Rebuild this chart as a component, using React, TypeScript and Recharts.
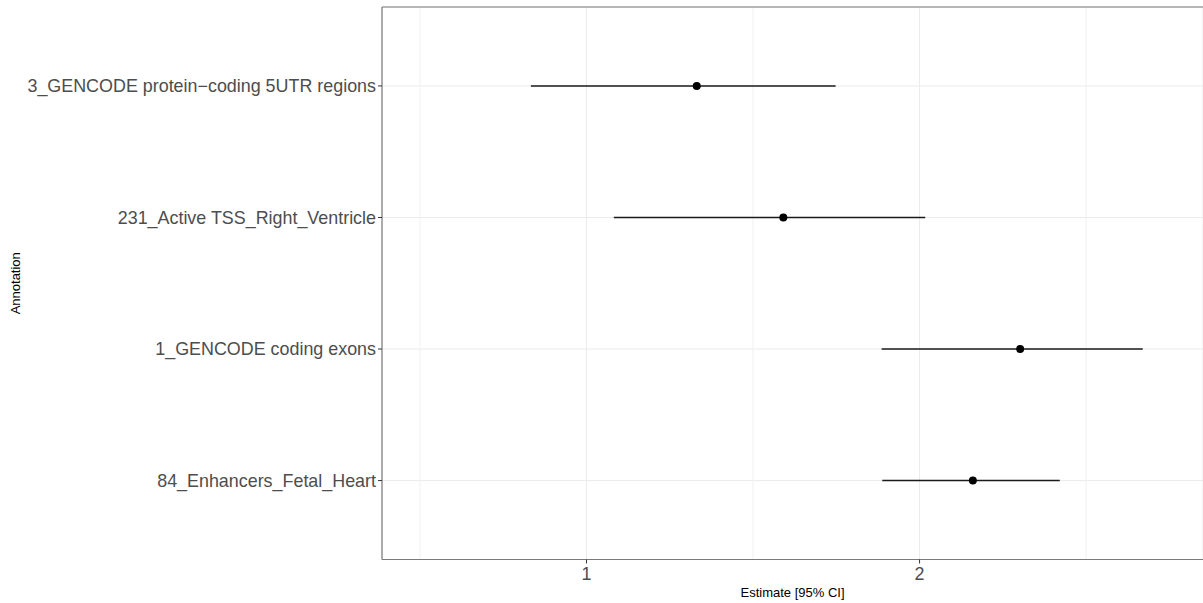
import React from "react";
import {
  ScatterChart,
  Scatter,
  XAxis,
  YAxis,
  CartesianGrid,
  ErrorBar,
  ReferenceLine,
} from "recharts";

// Categories from bottom (1) to top (4)
const annotations = [
  "84_Enhancers_Fetal_Heart",
  "1_GENCODE coding exons",
  "231_Active TSS_Right_Ventricle",
  "3_GENCODE protein\u2212coding 5UTR regions",
];
const estimates = [2.16, 2.302, 1.591, 1.331];
const lowerCI = [1.888, 1.886, 1.082, 0.833];
const upperCI = [2.421, 2.67, 2.017, 1.748];

const xTicks = [1, 2];
const xMinorGrid = [0.5, 1.5, 2.5];
const yTicks = [1, 2, 3, 4];

const data = annotations.map((name, i) => ({
  name,
  pos: i + 1,
  est: estimates[i],
  err: [estimates[i] - lowerCI[i], upperCI[i] - estimates[i]],
}));

const FONT = "'Liberation Sans', Arial, Helvetica, sans-serif";

const Dot = (props: any) => {
  const { cx, cy } = props;
  return <circle cx={cx} cy={cy} r={4} fill="#000" />;
};

const YTitle = (props: any) => {
  const vb = props.viewBox || {};
  const x = (vb.x ?? 0) + 15;
  const y = (vb.y ?? 0) + (vb.height ?? 0) / 2;
  return (
    <text
      x={x}
      y={y}
      transform={`rotate(-90, ${x}, ${y})`}
      textAnchor="middle"
      dominantBaseline="central"
      fontSize={13}
      fill="#000"
      fontFamily={FONT}
    >
      Annotation
    </text>
  );
};

export default function App() {
  return (
    <div style={{ position: "absolute", left: 0, top: 0, width: 1203, height: 603, background: "#fff" }}>
      <ScatterChart
        width={1203}
        height={603}
        margin={{ top: 7, right: 0, bottom: 0, left: 0 }}
        style={{ fontFamily: FONT }}
      >
        <CartesianGrid stroke="#EBEBEB" strokeWidth={1} />
        {xMinorGrid.map((v) => (
          <ReferenceLine key={v} x={v} stroke="#F0F0F0" strokeWidth={1} />
        ))}
        <XAxis
          type="number"
          dataKey="est"
          domain={[0.386, 2.851]}
          allowDataOverflow
          ticks={xTicks}
          height={43.5}
          tickSize={4}
          tickMargin={3.5}
          tick={{ fill: "#4D4D4D", fontSize: 17.9 }}
          tickLine={{ stroke: "#333" }}
          axisLine={{ stroke: "#7a7a7a", strokeWidth: 1.2 }}
          label={{
            value: "Estimate [95% CI]",
            position: "insideBottom",
            offset: 6,
            fontSize: 13,
            fill: "#000",
          }}
        />
        <YAxis
          type="number"
          dataKey="pos"
          domain={[0.4, 4.6]}
          allowDataOverflow
          ticks={yTicks}
          tickFormatter={(v: number) => annotations[v - 1] ?? ""}
          width={382}
          tickSize={4}
          tickMargin={2}
          tick={{ fill: "#4D4D4D", fontSize: 17.9 }}
          tickLine={{ stroke: "#333" }}
          axisLine={{ stroke: "#7a7a7a", strokeWidth: 1.2 }}
          label={<YTitle />}
        />
        <ReferenceLine y={4.6} stroke="#7a7a7a" strokeWidth={1.2} />
        <Scatter data={data} isAnimationActive={false} fill="#000" shape={<Dot />}>
          <ErrorBar
            dataKey="err"
            direction="x"
            width={0}
            stroke="#1a1a1a"
            strokeWidth={1.6}
            isAnimationActive={false}
          />
        </Scatter>
      </ScatterChart>
    </div>
  );
}
